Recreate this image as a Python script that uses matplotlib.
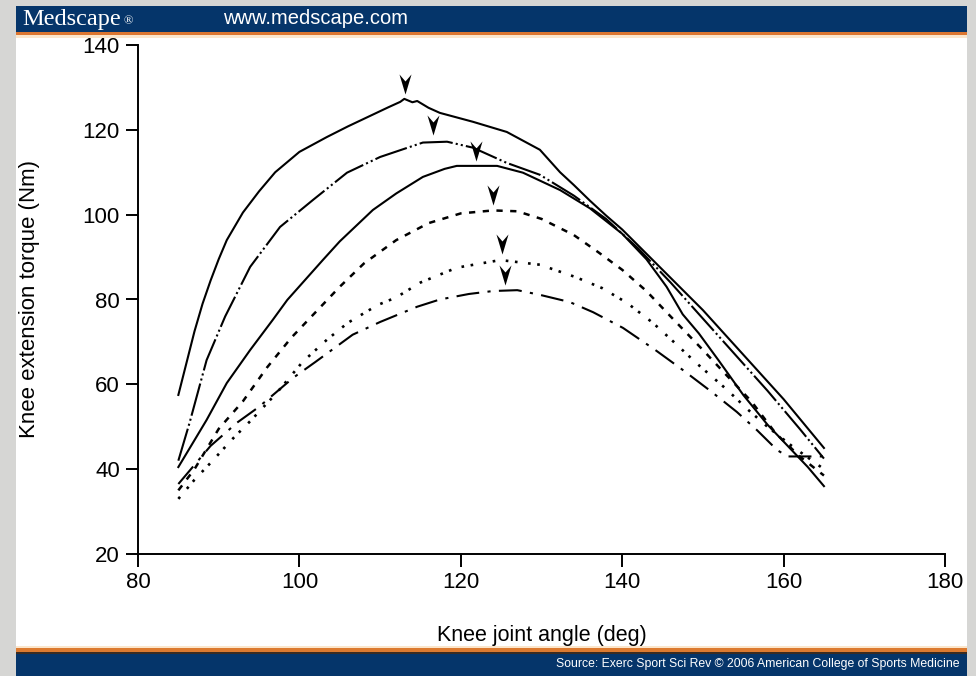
import matplotlib
matplotlib.use("Agg")
import matplotlib.pyplot as plt
from matplotlib.patches import Rectangle
from matplotlib.path import Path
from matplotlib import transforms

plt.rcParams['font.family'] = ['Liberation Sans', 'DejaVu Sans']

# knee joint angle (deg) / torque (Nm), one pair of lists per curve
angle1 = [85, 86, 87, 88, 89, 90, 91, 93, 95, 97, 100, 103.4, 106, 109, 111, 112.5, 113, 114, 114.6,
          116, 117.4, 121.5, 125.7, 129.8, 132.3, 134, 136, 138, 140, 145, 150, 155, 160, 165]
torque1 = [57.5, 65, 72.5, 79, 84.5, 89.5, 94, 100.5, 105.5, 110, 114.8, 118.3, 120.8, 123.5, 125.3,
           126.6, 127.3, 126.5, 126.8, 125.2, 124, 121.9, 119.5, 115.3, 110, 107, 103.3, 99.8, 96.5,
           87, 77.5, 67, 56.5, 45]

angle2 = [85, 86.4, 88.5, 90.8, 93.9, 97.6, 101.7, 105.9, 110, 115.3, 118.3, 121.5, 125.7, 129.8,
          134, 138, 142, 146, 150, 154, 158, 162, 165]
torque2 = [42, 51, 65.7, 76, 87.7, 97.1, 103.5, 109.9, 113.6, 117, 117.2, 115.8, 112.2, 109.4,
           104.5, 99, 92, 84, 75.5, 67, 58.5, 49.5, 42.5]

angle3 = [85, 86.8, 88.5, 91, 93.9, 96.7, 98.5, 102.9, 105, 109.1, 112, 115.3, 118, 119.5, 124.5,
          127.7, 132.3, 136, 140, 143, 145.5, 147.5, 149.5, 152, 155, 158, 161, 163, 165]
torque3 = [40.5, 46.2, 51.6, 60.3, 68.1, 75.2, 79.9, 89.3, 93.7, 101.1, 105, 108.9, 110.8, 111.5, 111.5,
           109.9, 105.8, 101.5, 95.5, 89.5, 83, 76.5, 72, 65.5, 57.5, 50.5, 44.5, 40.5, 36]

angle4 = [85, 87, 90, 93, 96, 99, 102, 105, 108, 112, 116, 120, 124, 127, 130, 134, 137, 140, 143,
          146, 150, 153, 156, 159, 162, 165]
torque4 = [35, 40, 49.5, 56, 64, 71, 77, 83, 88.5, 94, 98, 100.3, 101, 100.8, 99, 95.2, 91.2, 87, 82,
           76, 68.1, 62, 56, 48.5, 43, 38.5]

angle5 = [85, 87, 89, 91.8, 94, 97.2, 100.4, 103.4, 106, 109.7, 112, 115, 119.5, 124.9, 129.8, 134.2,
          137.5, 140.6, 143.8, 146.5, 149.2, 153, 155.6, 158, 161, 165]
torque5 = [33, 37.5, 41.5, 47.3, 51.5, 58, 65.3, 70.5, 74.5, 78.7, 80.5, 84, 87.5, 89.3, 88.2, 85.3,
           82.7, 79.2, 74.5, 69.8, 65, 58.7, 54, 50, 45.5, 40]

angle6 = [85, 87, 89, 92.3, 95, 99.2, 102, 106.6, 110, 114.6, 117.4, 121, 124, 127, 129.8, 133.5,
          136.4, 140.1, 144.1, 147.5, 151.1, 154.2, 156.7, 159.2, 160.5, 165]
torque6 = [36.5, 41, 45.5, 51, 54.7, 61.5, 65.3, 71.7, 74.7, 78.3, 80, 81.3, 82, 82.2, 81.1, 79.4,
           77, 73.3, 68.1, 63.4, 58.2, 53.5, 49.2, 44.5, 43, 43]

# peak torque of each curve (arrowheads)
peak_angle = [113.1, 116.6, 121.9, 124.0, 125.1, 125.5]
peak_torque = [127.3, 117.5, 111.5, 101, 89.5, 82.2]

x_ticks = [80, 100, 120, 140, 160, 180]
y_ticks = [20, 40, 60, 80, 100, 120, 140]

W, H = 976, 676
fig = plt.figure(figsize=(W / 100, H / 100), dpi=100)
fig.patch.set_facecolor('#d6d6d4')


def box(x0, y0, x1, y1, color, z=0):
    # pixel box (origin top-left) to figure rectangle
    fig.add_artist(Rectangle((x0 / W, 1 - y1 / H), (x1 - x0) / W, (y1 - y0) / H,
                             transform=fig.transFigure, facecolor=color, edgecolor='none', zorder=z))


# white panel with header / footer bars
box(16, 6, 967, 676, 'white')
box(16, 6, 967, 32, '#05356a')
box(16, 32, 967, 35.5, '#dc7630')
box(16, 35.5, 967, 38, '#fbe6cc')
box(16, 646, 967, 648, '#fbe6cc')
box(16, 648, 967, 652, '#dc7a30')
box(16, 652, 967, 654, '#3b2c22')
box(16, 654, 967, 676, '#05356a')

fig.text(22 / W, 1 - 19 / H, 'Medscape', family='Liberation Serif', fontsize=17.5, color='white',
         va='center', ha='left')
fig.text(124 / W, 1 - 21 / H, '®', family='Liberation Serif', fontsize=9, color='white',
         va='center', ha='left')
fig.text(223 / W, 1 - 19 / H, 'www.medscape.com', fontsize=14.5, color='white', va='center', ha='left')
fig.text(959 / W, 1 - 664 / H, 'Source: Exerc Sport Sci Rev © 2006 American College of Sports Medicine',
         fontsize=8.8, color='white', va='center', ha='right')

ax = fig.add_axes([138 / W, 1 - 554 / H, (945 - 138) / W, (554 - 45) / H])
ax.set_facecolor('none')

lw = 1.5
ax.plot(angle1, torque1, color='black', lw=lw, ls='-')
ax.plot(angle2, torque2, color='black', lw=lw, ls=(0, (16, 1.5, 1, 1.5, 1, 1.5)))
ax.plot(angle3, torque3, color='black', lw=lw, ls='-')
ax.plot(angle4, torque4, color='black', lw=lw + 0.3, ls=(0, (2.5, 3)))
ax.plot(angle5, torque5, color='black', lw=lw + 0.4, ls=(0, (1, 4, 1, 2.5)))
ax.plot(angle6, torque6, color='black', lw=lw, ls=(0, (11, 4, 1.5, 4)))

# notched downward arrowhead
arrow = Path([(-0.6, 1), (0, -1), (0.6, 1), (0, 0.3), (-0.6, 1)],
             [Path.MOVETO, Path.LINETO, Path.LINETO, Path.LINETO, Path.CLOSEPOLY])
lift = transforms.offset_copy(ax.transData, fig=fig, y=11, units='points')
ax.scatter(peak_angle, peak_torque, marker=arrow, s=210, color='black', transform=lift,
           linewidths=0, clip_on=False)

ax.set_xlim(80, 180)
ax.set_ylim(20, 140)
ax.set_xticks(x_ticks)
ax.set_yticks(y_ticks)
for s in ['top', 'right']:
    ax.spines[s].set_visible(False)
for s in ['left', 'bottom']:
    ax.spines[s].set_linewidth(1.4)
ax.tick_params(direction='out', length=9, width=1.4, labelsize=16, pad=4)

ax.set_xlabel('Knee joint angle (deg)', fontsize=15.5, labelpad=23)
ax.set_ylabel('Knee extension torque (Nm)', fontsize=16, labelpad=31)

fig.savefig('out.png', dpi=100, facecolor=fig.get_facecolor())
